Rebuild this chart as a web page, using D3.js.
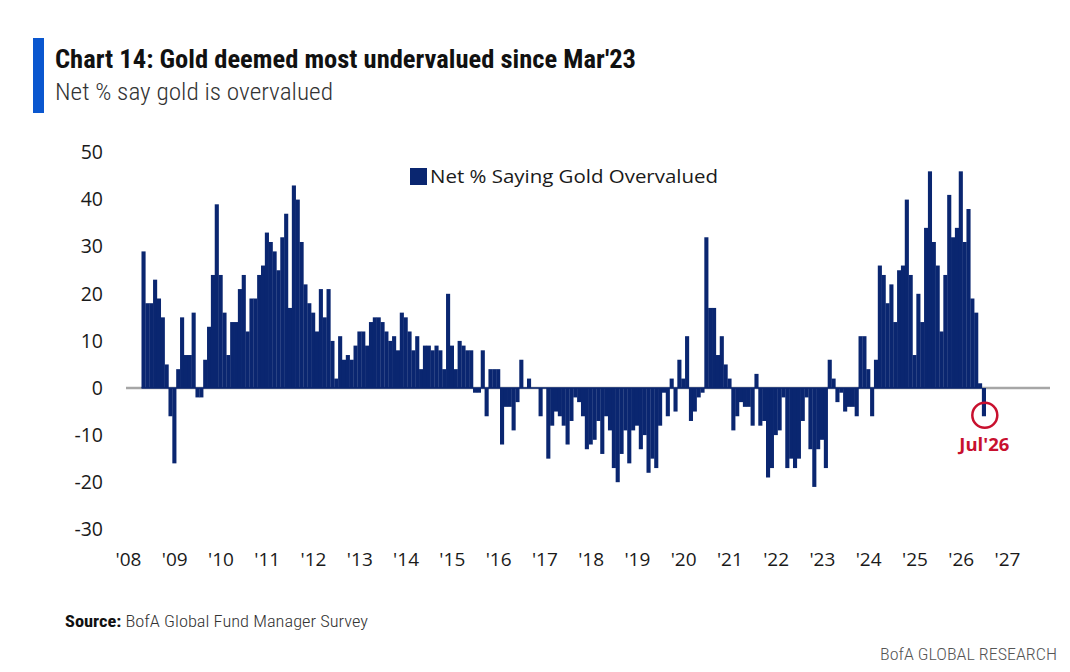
<!DOCTYPE html>
<html>
<head>
<meta charset="utf-8">
<script src="https://cdn.jsdelivr.net/npm/d3@7"></script>
<style>
  html, body { margin: 0; padding: 0; background: #ffffff; }
  svg { display: block; }
</style>
</head>
<body>
<svg id="chart" width="1070" height="672"></svg>
<script>
// ---------------- DATA ----------------
const titleText = "Chart 14: Gold deemed most undervalued since Mar'23";
const subtitleText = "Net % say gold is overvalued";
const seriesName = "Net % Saying Gold Overvalued";
const sourceBold = "Source:";
const sourceRest = " BofA Global Fund Manager Survey";
const footerText = "BofA GLOBAL RESEARCH";
const calloutLabel = "Jul'26";

// first observation: May 2008 (year, month index 0-based)
const startYear = 2008;
const startMonth = 4;

// monthly net % values, May 2008 .. Jul 2026
const netOvervalued = [
  29, 18, 18, 23, 19, 15, 5, -6, -16, 4, 15, 7, 7, 16, -2, -2, 6, 13, 24, 39,
  24, 16, 7, 14, 14, 21, 24, 12, 19, 19, 24, 26,
  33, 31, 29, 25, 32, 37, 17, 43, 40, 31, 22, 18, 16, 12, 21, 15, 21, 10,
  2, 11, 6, 7, 6, 9, 12, 12, 9, 14, 15, 15, 14, 12, 10, 11, 8, 16, 15, 12,
  8, 11, 4, 9, 9, 8, 9, 8,
  4, 20, 9, 4, 10, 9, 8, 8, -1, -1, 8, -6, 4, 4, 4, -12, -4, -4, -9, -3,
  6, 0, 2, 0, 0, -6, 0, -15, -8, -5, -6, -8, -12, -7, -2, -3, -6, -13, -12, -11,
  -7, -14, -6, -9, -17, -20,
  -14, -9, -16, -9, -8, -13, -10, -18, -15, -17, -8, -1, -6, 2, -5, 6, 2, 11, -7, -5,
  -2, -1, 32, 17, 17, 7, 11, 5, 2, -9, -6, -3, -4, -4, -8, 3, -8, -7, -19, -17,
  -10, -9, -2, -17, -15, -17, -15,
  -7, -2, -13, -21, -13, -11, -17, 6, 2, -3, -1, -5, -4, -4, -6, 11, 11, 4, -6, 6,
  26, 24, 18, 22, 14, 25, 26, 40, 24, 7, 20, 14, 34, 46, 31, 26, 12, 24, 41, 32,
  34, 46, 31, 38, 19, 16, 1, -6
];

const yTicks = [50, 40, 30, 20, 10, 0, -10, -20, -30];
const xTickYears = [2008, 2009, 2010, 2011, 2012, 2013, 2014, 2015, 2016, 2017,
  2018, 2019, 2020, 2021, 2022, 2023, 2024, 2025, 2026, 2027];

// ---------------- BUILD ----------------
const data = netOvervalued.map((v, i) => ({
  m: (startMonth + i),            // months since Jan 2008
  value: v
}));

const svg = d3.select("#chart");

const x = d3.scaleLinear().domain([0, 228]).range([128, 128 + 228 * 3.855]);
const y = d3.scaleLinear().domain([-30, 50]).range([529.3, 152.5]);
const bw = x(1) - x(0);

const navy = "#0a2670";
const red = "#c8102e";
const sansFont = "'Open Sans','Noto Sans',sans-serif";
const narrowFont = "'Liberation Sans Narrow','Roboto Condensed','Liberation Sans',Arial,sans-serif";

// header accent bar
svg.append("rect").attr("x", 33).attr("y", 38).attr("width", 11).attr("height", 75)
  .attr("fill", "#0a57cf");

svg.append("text")
  .attr("x", 55).attr("y", 68)
  .attr("font-family", narrowFont)
  .attr("font-weight", "bold").attr("font-size", 26)
  .attr("fill", "#111")
  .attr("textLength", 581).attr("lengthAdjust", "spacingAndGlyphs")
  .text(titleText);

svg.append("text")
  .attr("x", 55).attr("y", 100)
  .attr("font-family", "'Liberation Sans Narrow','Roboto Condensed',Roboto,sans-serif")
  .attr("font-weight", 300).attr("font-size", 23)
  .attr("fill", "#333")
  .attr("textLength", 278).attr("lengthAdjust", "spacingAndGlyphs")
  .text(subtitleText);

// zero line
svg.append("line")
  .attr("x1", 126).attr("x2", 1050)
  .attr("y1", y(0)).attr("y2", y(0))
  .attr("stroke", "#a6a6a6").attr("stroke-width", 2.5);

// bars
svg.append("g").selectAll("rect")
  .data(data).join("rect")
  .attr("x", d => x(d.m) - bw / 2)
  .attr("width", bw + 0.25)
  .attr("y", d => Math.min(y(d.value), y(0)))
  .attr("height", d => Math.abs(y(d.value) - y(0)))
  .attr("fill", navy);

// dark baseline under bars
svg.append("line")
  .attr("x1", x(data[0].m) - bw / 2).attr("x2", x(data[data.length - 1].m) - bw / 2)
  .attr("y1", y(0)).attr("y2", y(0))
  .attr("stroke", navy).attr("stroke-width", 1.5);

// y axis
const yAxis = svg.append("g")
  .attr("transform", "translate(103,0)")
  .call(d3.axisLeft(y).tickValues(yTicks).tickSize(0).tickPadding(0).tickFormat(d => String(d)));
yAxis.select(".domain").remove();
yAxis.selectAll("text")
  .attr("font-family", sansFont).attr("font-size", 19.5)
  .attr("fill", "#1a1a1a");

// x axis
const xAxis = svg.append("g")
  .attr("transform", "translate(0,552)")
  .call(d3.axisBottom(x)
    .tickValues(xTickYears.map(yr => (yr - startYear) * 12))
    .tickSize(0).tickPadding(0)
    .tickFormat(d => "'" + String(startYear + d / 12).slice(2)));
xAxis.select(".domain").remove();
xAxis.selectAll("text")
  .attr("font-family", sansFont).attr("font-size", 19)
  .attr("fill", "#1a1a1a");

// legend
const lg = svg.append("g").attr("transform", "translate(410,168)");
lg.append("rect").attr("width", 17).attr("height", 17).attr("fill", navy);
lg.append("text").attr("x", 20).attr("y", 8.5).attr("dy", "0.35em")
  .attr("font-family", sansFont).attr("font-size", 18.5)
  .attr("fill", "#1a1a1a")
  .attr("textLength", 288).attr("lengthAdjust", "spacingAndGlyphs")
  .text(seriesName);

// callout for last point
const last = data[data.length - 1];
svg.append("circle")
  .attr("cx", x(last.m) + 1).attr("cy", y(last.value) - 1)
  .attr("r", 12.5)
  .attr("fill", "none").attr("stroke", red).attr("stroke-width", 2.5);
svg.append("text")
  .attr("x", x(last.m) + 0.5).attr("y", 451)
  .attr("text-anchor", "middle")
  .attr("font-family", sansFont).attr("font-weight", "bold").attr("font-size", 18.5)
  .attr("fill", red)
  .text(calloutLabel);

// source
const src = svg.append("text")
  .attr("x", 65).attr("y", 627)
  .attr("font-family", narrowFont)
  .attr("font-size", 16).attr("fill", "#333")
  .attr("textLength", 303).attr("lengthAdjust", "spacingAndGlyphs");
src.append("tspan").attr("font-weight", "bold").attr("fill", "#111").text(sourceBold);
src.append("tspan").attr("font-weight", 300).text(sourceRest);

// footer
svg.append("text")
  .attr("x", 1057).attr("y", 660)
  .attr("text-anchor", "end")
  .attr("font-family", narrowFont)
  .attr("font-size", 16).attr("font-weight", 300).attr("fill", "#555")
  .attr("textLength", 177).attr("lengthAdjust", "spacingAndGlyphs")
  .text(footerText);
</script>
</body>
</html>
